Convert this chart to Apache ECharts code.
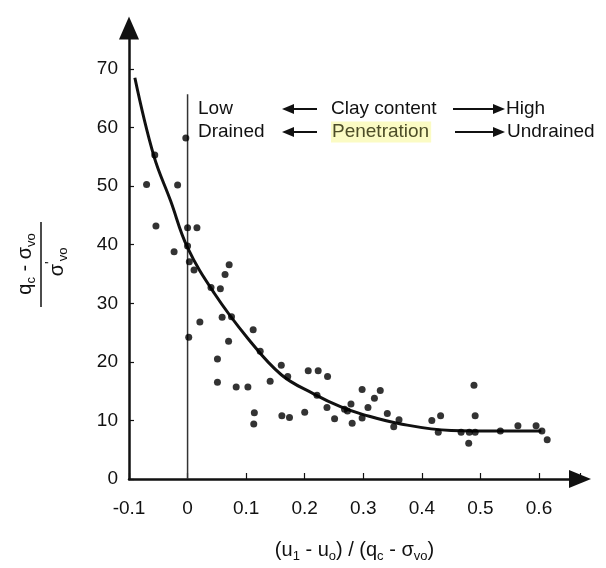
<!DOCTYPE html>
<html>
<head>
<meta charset="utf-8">
<script src="https://cdn.jsdelivr.net/npm/echarts@6/dist/echarts.min.js"></script>
<style>
html,body{margin:0;padding:0;background:#fff;}
#chart{width:606px;height:568px;}
</style>
</head>
<body>
<div id="chart"></div>
<script>
// ---- data ----
const pointX = [-0.070,-0.056,-0.017,-0.003,-0.054,0.000,0.016,-0.023,0.000,0.003,0.011,0.002,0.021,0.040,0.056,0.064,0.071,0.059,0.075,0.070,0.051,0.051,0.083,0.103,0.112,0.124,0.114,0.113,0.141,0.160,0.171,0.161,0.174,0.200,0.206,0.223,0.239,0.221,0.238,0.251,0.268,0.279,0.273,0.281,0.298,0.298,0.308,0.319,0.329,0.341,0.352,0.361,0.417,0.432,0.428,0.467,0.480,0.481,0.491,0.489,0.491,0.534,0.564,0.595,0.605,0.614];
const pointY = [50.3,55.3,50.2,58.2,43.2,42.9,42.9,38.8,39.8,37.1,35.7,24.2,26.8,32.7,32.5,34.9,36.6,27.6,27.7,23.5,20.5,16.5,15.7,15.7,25.5,21.8,11.3,9.4,16.7,19.4,17.5,10.8,10.5,11.4,18.5,18.5,17.5,14.3,12.2,10.3,11.9,12.8,11.6,9.5,15.3,10.4,12.2,13.8,15.1,11.2,8.9,10.1,10.0,10.8,8.0,8.0,6.1,8.0,8.0,16.0,10.8,8.2,9.1,9.1,8.2,6.7];
const curveX = [-0.090,-0.058,-0.029,0.000,0.045,0.103,0.160,0.216,0.262,0.300,0.364,0.450,0.536,0.604];
const curveY = [68.5,55.3,47.5,39.5,31.8,24.0,17.8,14.5,12.3,11.0,9.4,8.3,8.2,8.2];
const dividerX = [0, 0];
const dividerY = [0, 65.7];
const xTickLabels = ['-0.1','0','0.1','0.2','0.3','0.4','0.5','0.6'];
const yTickLabels = ['0','10','20','30','40','50','60','70'];

const FONT = '"Liberation Sans", Arial, sans-serif';
const INK = '#111';

const chart = echarts.init(document.getElementById('chart'), null, {renderer:'canvas'});

function arrow(x1, x2, y) {
  const dir = x2 > x1 ? 1 : -1;
  const head = 12;
  return [
    {type:'line', shape:{x1:x1, y1:y, x2:x2 - dir*head, y2:y}, style:{stroke:INK, lineWidth:2}},
    {type:'polygon', shape:{points:[[x2,y],[x2-dir*head,y-5],[x2-dir*head,y+5]]}, style:{fill:INK}}
  ];
}

const txt = (x, y, s) => ({
  type:'text', x:x, y:y,
  style:{text:s, font:'19px ' + FONT, fill:INK, verticalAlign:'middle'}
});

const graphics = [
  txt(198, 109, 'Low'),
  txt(198, 132, 'Drained'),
  txt(331, 109, 'Clay content'),
  {type:'text', x:331, y:132, style:{text:'Penetration', font:'19px ' + FONT, fill:'#4d4d28',
     verticalAlign:'middle', backgroundColor:'#fbfbc4', padding:[1,2,1,1]}},
  txt(506, 109, 'High'),
  txt(507, 132, 'Undrained'),
  ...arrow(317, 282, 109),
  ...arrow(453, 505, 109),
  ...arrow(317, 282, 132),
  ...arrow(455, 505, 132),
  // y-axis title as a rotated fraction
  {type:'group', x:41, y:264, rotation:Math.PI/2, children:[
    {type:'line', shape:{x1:-43, y1:0, x2:42, y2:0}, style:{stroke:INK, lineWidth:1.5}},
    {type:'text', x:0, y:-3, style:{
      text:'{b|q}{s|c}{b| - σ}{s|vo}', align:'center', verticalAlign:'bottom', fill:INK,
      rich:{b:{fontSize:20, fontFamily:FONT, fill:INK, lineHeight:26, verticalAlign:'middle'},
            s:{fontSize:13, fontFamily:FONT, fill:INK, verticalAlign:'bottom'}}}},
    {type:'text', x:2, y:3, style:{
      text:'{b|σ}{p|\'}{s|vo}', align:'center', verticalAlign:'top', fill:INK,
      rich:{b:{fontSize:20, fontFamily:FONT, fill:INK, lineHeight:26, verticalAlign:'middle'},
            p:{fontSize:14, fontFamily:FONT, fill:INK, verticalAlign:'top'},
            s:{fontSize:13, fontFamily:FONT, fill:INK, verticalAlign:'bottom'}}}}
  ]}
];

const scatterData = pointX.map((x, i) => [x, pointY[i]]);
const curveData = curveX.map((x, i) => [x, curveY[i]]);
const dividerData = dividerX.map((x, i) => [x, dividerY[i]]);

chart.setOption({
  animation:false,
  backgroundColor:'#fff',
  textStyle:{fontFamily:FONT},
  grid:{left:129, top:28, right:26, bottom:82, containLabel:false},
  xAxis:{
    type:'value', min:-0.1, max:0.67, interval:0.1,
    axisLine:{show:true, onZero:false, symbol:['none','triangle'], symbolSize:[18,22],
      lineStyle:{color:INK, width:2.5}},
    axisTick:{show:true, inside:true, length:6, lineStyle:{color:INK, width:1.2}},
    axisLabel:{fontSize:19, color:INK, margin:20, fontFamily:FONT,
      formatter:(v, i) => (i < xTickLabels.length ? xTickLabels[i] : '')},
    splitLine:{show:false},
    name:'{n|(u}{s|1}{n| - u}{s|o}{n|) / (q}{s|c}{n| - σ}{s|vo}{n|)}',
    nameLocation:'middle', nameGap:58,
    nameTextStyle:{rich:{
      n:{fontSize:20, fontFamily:FONT, color:INK, lineHeight:26, verticalAlign:'middle'},
      s:{fontSize:13, fontFamily:FONT, color:INK, verticalAlign:'bottom'}}}
  },
  yAxis:{
    type:'value', min:0, max:77, interval:10,
    axisLine:{show:true, onZero:false, symbol:['none','triangle'], symbolSize:[20,23],
      lineStyle:{color:INK, width:2.5}},
    axisTick:{show:true, inside:true, length:5, lineStyle:{color:INK, width:1.2}},
    axisLabel:{fontSize:19, color:INK, margin:11, fontFamily:FONT,
      formatter:(v, i) => (i < yTickLabels.length ? yTickLabels[i] : '')},
    splitLine:{show:false}
  },
  series:[
    {type:'line', data:dividerData, showSymbol:false, silent:true,
      lineStyle:{color:'#333', width:1.5}, z:1},
    {type:'line', data:curveData, smooth:0.4, showSymbol:false, silent:true,
      lineStyle:{color:INK, width:3}, z:3},
    {type:'scatter', data:scatterData, symbol:'circle', symbolSize:7,
      itemStyle:{color:'#000'}, z:4}
  ],
  graphic:graphics
});
</script>
</body>
</html>
